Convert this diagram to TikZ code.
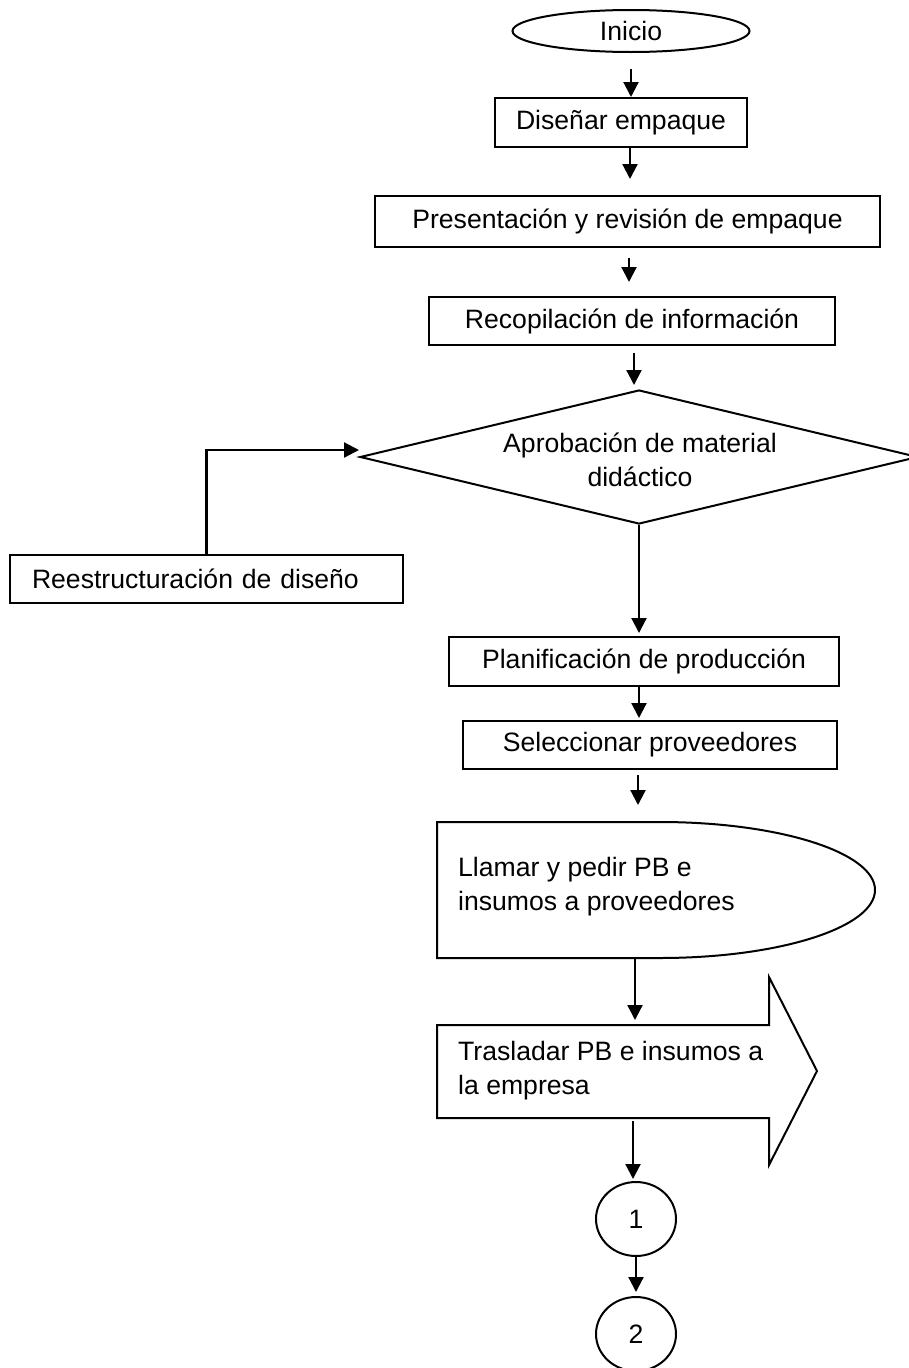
\documentclass[tikz,border=0pt]{standalone}
\usepackage{fontspec}
\setmainfont{Liberation Sans}
\usetikzlibrary{shapes.geometric,arrows.meta}
\begin{document}
\begin{tikzpicture}[x=1pt,y=-1pt,
  txt/.style={font=\fontsize{26.6}{34}\selectfont, inner sep=0pt},
  box/.style={txt, draw, line width=2pt, rectangle},
  outline/.style={line width=2pt, line join=miter},
  arr/.style={line width=2.2pt, -{Triangle[length=15pt,width=15pt]}}]
\useasboundingbox (0,0) rectangle (908,1368);

% start terminal
\node[txt, draw, line width=2pt, ellipse, minimum width=237pt, minimum height=42pt] (inicio) at (631,31) {Inicio};

% process boxes
\node[box, minimum width=252pt, minimum height=49pt] (disenar) at (621,122.5) {Diseñar empaque};
\node[box, minimum width=505pt, minimum height=51pt] (present) at (627.5,221.5) {Presentación y revisión de empaque};
\node[box, minimum width=406pt, minimum height=48pt] (recop) at (632,321) {Recopilación de información};

% decision
\node[draw, line width=2pt, diamond, minimum width=558pt, minimum height=134pt, inner sep=0pt] (aprob) at (639,457) {};
\node[txt, align=center] (aprobtxt) at (640,460) {Aprobación de material\\didáctico};

% rework box
\node[box, minimum height=48pt, inner xsep=22pt, text width=349pt, align=left] (reest) at (206.5,579) {Reestructuración de diseño};

\node[box, minimum width=390pt, minimum height=49pt] (plan) at (644,661.5) {Planificación de producción};
\node[box, minimum width=374pt, minimum height=48pt] (selec) at (650,745) {Seleccionar proveedores};

% delay-shaped step
\coordinate (llnw) at (437,822);
\coordinate (llsw) at (437,958);
\coordinate (llm) at (635,958);
\draw[outline] (llsw) -- (llnw) -- (660,822)
  .. controls (778.7,822) and (875,852.4) .. (875,890)
  .. controls (875,927.6) and (778.7,958) .. (660,958) -- cycle;
\node[txt, anchor=west, align=left] (llamar) at (458,886.5) {Llamar y pedir PB e\\insumos a proveedores};

% block-arrow step
\coordinate (trnw) at (437,1025);
\coordinate (trsw) at (437,1118);
\coordinate (trm) at (633,1118);
\draw[outline] (trsw) -- (trnw) -- (769,1025) -- (769,977) -- (817,1071)
  -- (769,1165) -- (769,1118) -- cycle;
\node[txt, anchor=west, align=left] (trasl) at (458,1070.5) {Trasladar PB e insumos a\\la empresa};

% connectors
\node[txt, draw, line width=2pt, ellipse, minimum width=80pt, minimum height=74pt] (c1) at (636,1219) {1};
\node[txt, draw, line width=2pt, ellipse, minimum width=80pt, minimum height=74pt] (c2) at (636,1334) {2};

% flow lines
\draw[arr, shorten <=16pt] (inicio.south) -- (inicio.south |- disenar.north);
\coordinate (d1) at ([xshift=9pt]disenar.south);
\draw[arr, shorten >=16pt] (d1) -- (d1 |- present.north);
\coordinate (p1) at ([xshift=1.5pt]present.south);
\draw[arr, shorten <=10pt, shorten >=14pt] (p1) -- (p1 |- recop.north);
\coordinate (r1) at ([xshift=2pt]recop.south);
\draw[arr, shorten <=7pt, shorten >=4pt] (r1) -- (r1 |- aprob.north);
\draw[arr, shorten >=3pt] (aprob.south) -- (aprob.south |- plan.north);
\coordinate (pl1) at ([xshift=-5pt]plan.south);
\draw[arr, shorten >=2pt] (pl1) -- (pl1 |- selec.north);
\coordinate (s1) at ([xshift=-12pt]selec.south);
\draw[arr, shorten <=5pt, shorten >=17pt] (s1) -- (s1 |- llnw);
\draw[arr, shorten >=5pt] (llm) -- (llm |- trnw);
\draw[arr, shorten <=3pt, shorten >=2pt] (trm) -- (trm |- c1.north);
\draw[arr, shorten >=4pt] (c1.south) -- (c2.north);

% rework loop back to the decision
\coordinate (fbin) at (359,450);
\draw[arr] (reest.north) |- (fbin);
\end{tikzpicture}
\end{document}
